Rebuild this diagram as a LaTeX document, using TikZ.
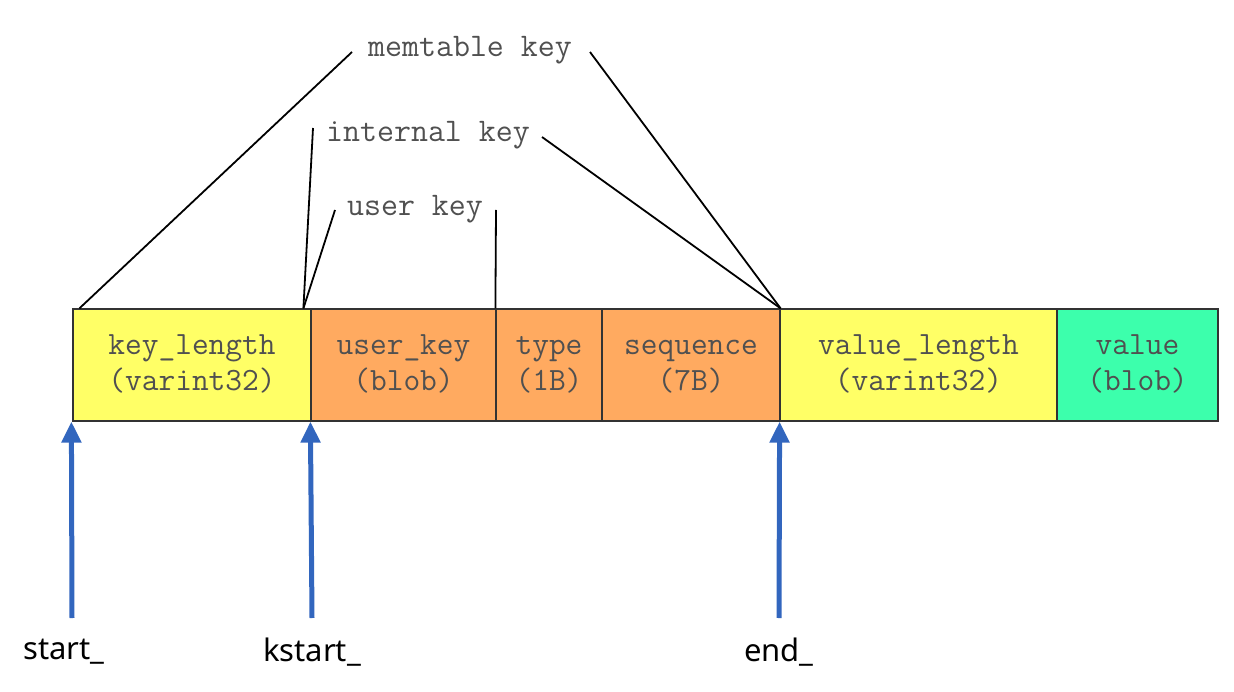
\documentclass[tikz,border=0pt]{standalone}
\usepackage{fontspec}
\setmainfont{Noto Sans}
\usetikzlibrary{arrows.meta}
\definecolor{fieldyellow}{RGB}{255,255,102}
\definecolor{fieldorange}{RGB}{255,170,96}
\definecolor{fieldgreen}{RGB}{60,255,172}
\definecolor{fieldtext}{RGB}{80,80,80}
\definecolor{ptrblue}{RGB}{50,102,190}
\tikzset{
  field/.style={draw=black!80, line width=1.2pt, rectangle, inner sep=0pt,
    minimum height=112pt, align=center, text=fieldtext,
    font=\ttfamily\fontsize{32.5}{36}\selectfont},
  keylabel/.style={inner sep=0pt, text=fieldtext,
    font=\ttfamily\fontsize{33}{36}\selectfont},
  bracket/.style={draw=black, line width=1.8pt},
  pointer/.style={draw=ptrblue, line width=5pt,
    -{Triangle[width=19pt,length=21pt]}},
  ptrlabel/.style={inner sep=0pt, font=\fontsize{31}{36}\selectfont}
}
\begin{document}
\begin{tikzpicture}[x=1pt,y=-1pt]
\useasboundingbox (0,0) rectangle (1234,692);
% record fields
\node[field, fill=fieldyellow, minimum width=238pt] (kl) at (192,365) {\strut key\_length\\\strut (varint32)};
\node[field, fill=fieldorange, minimum width=185pt] (uk) at (403.5,365) {\strut user\_key\\\strut (blob)};
\node[field, fill=fieldorange, minimum width=106pt] (ty) at (549,365) {\strut type\\\strut (1B)};
\node[field, fill=fieldorange, minimum width=178pt] (sq) at (691,365) {\strut sequence\\\strut (7B)};
\node[field, fill=fieldyellow, minimum width=277pt] (vl) at (918.5,365) {\strut value\_length\\\strut (varint32)};
\node[field, fill=fieldgreen, minimum width=161pt] (vv) at (1137.5,365) {\strut value\\\strut (blob)};
% key span labels
\node[keylabel] (mk) at (470,50) {memtable key};
\node[keylabel] (ik) at (428,135) {internal key};
\node[keylabel] (ukl) at (415,209) {user key};
\coordinate (mkL) at (352,52);
\coordinate (mkR) at (590,52);
\coordinate (ikL) at (313,128);
\coordinate (ikR) at (542,137);
\coordinate (ukL) at (335,210);
\coordinate (ukR) at (496,210);
\draw[bracket] (mkL) -- ([xshift=7pt]kl.north west);
\draw[bracket] (mkR) -- (sq.north east);
\draw[bracket] (ikL) -- ([xshift=-7pt]uk.north west);
\draw[bracket] (ikR) -- (sq.north east);
\draw[bracket] (ukL) -- ([xshift=-7pt]uk.north west);
\draw[bracket] (ukR) -- (ty.north west);
% pointers
\node[ptrlabel] (ps) at (64,652) {start\_};
\node[ptrlabel] (pk) at (312,652) {kstart\_};
\node[ptrlabel] (pe) at (779,652) {end\_};
\coordinate (ts) at (72,618);
\coordinate (tk) at (312,618);
\coordinate (te) at (779,618);
\draw[pointer] (ts) -- ([xshift=-1pt]kl.south west);
\draw[pointer] (tk) -- (uk.south west);
\draw[pointer] (te) -- ([xshift=-1pt]sq.south east);
\end{tikzpicture}
\end{document}
